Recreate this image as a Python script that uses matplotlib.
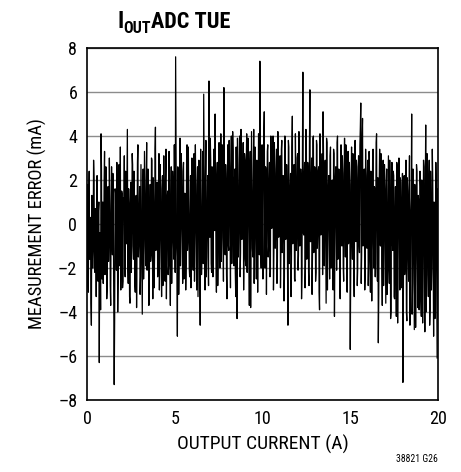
import numpy as np
import matplotlib
matplotlib.use("Agg")
import matplotlib.pyplot as plt
from matplotlib import font_manager

# measurement error (mA) at 0, 0.05, 0.10 ... 20 A
error_even = [
    -0.5, -2.8, 0.9, -1.6, 0.3, -4.6, 1.2, -0.9, 2.1, -2.2, -0.1, 1.5, -1.3, 0.6, -6.3, -0.8, 4.1, -2.5, 1.0, -1.7,
    3.3, -1.1, 0.4, -2.9, 1.7, -0.6, 0.9, -3.7, 2.6, -1.4, 0.2, -7.3, 1.6, -0.7, 2.8, -4.0, 0.5, -1.9, 3.5, -0.2,
    1.4, -2.6, 0.3, -1.8, 2.4, -0.9, 4.3, -2.7, 0.8, -3.6, 1.9, -0.4, 2.7, -1.6, 0.1, -3.1, 1.3, -1.1, 3.6, -0.8,
    1.7, -2.4, 0.6, -4.1, 2.5, -1.0, 1.1, -1.9, 3.7, -0.3, 0.8, -3.0, 1.8, -1.4, 2.9, -3.4, 0.4, -1.5, 4.4, -0.9,
    1.9, -1.7, 3.2, -0.6, 0.9, -3.3, 2.2, -1.2, 0.5, -2.6, 3.4, -0.7, 1.5, -1.9, 0.2, -3.7, 2.6, -0.5, 1.8, -1.6,
    1.1, 7.6, -0.9, -5.1, 2.3, -1.4, 3.9, -0.2, 1.6, -2.7, 2.8, 0.1, 1.2, -1.8, 3.6, -0.6, 0.7, -2.4, 2.2, -1.1,
    2.0, -2.1, 3.2, -0.3, 1.3, -3.0, 2.6, 0.2, 1.7, -4.6, 0.8, -1.3, 3.3, 5.9, -0.9, 2.1, -2.4, 0.6, -1.5, 6.5,
    -0.6, 2.9, -2.2, 1.7, 0.1, 3.2, 5.0, -1.4, 2.0, -2.8, 2.5, 0.3, 1.6, -1.7, 3.6, -0.4, 6.2, -1.1, 2.7, -2.3,
    2.3, -0.9, 3.8, 0.2, 2.6, -1.8, 4.2, -0.5, 1.9, -2.2, 3.5, -4.3, 1.5, -0.2, 4.0, -1.3, 2.4, 0.4, 3.7, -1.0,
    2.9, -1.9, 4.1, 0.0, 2.2, -3.7, 3.3, 0.6, 1.5, -1.5, 4.3, -0.4, 2.6, -2.5, 1.8, 0.1, 3.5, 7.4, -1.2, 2.0,
    -0.5, 3.0, 5.1, -2.0, 2.4, 0.3, 3.6, -1.0, 2.8, -2.2, 1.7, 0.0, 4.0, -1.3, 2.5, -0.3, 3.4, -1.7, 1.4, 0.5,
    3.1, -1.1, 3.8, -0.2, 2.1, -2.4, 2.9, 0.2, 1.6, -4.6, 3.5, -0.6, 2.3, -1.6, 4.9, 0.0, 2.7, -2.6, 1.9, -0.4,
    3.2, -1.4, 3.9, 0.1, 2.0, -2.3, 6.9, -0.5, 2.8, -1.8, 3.6, 0.4, 2.3, -2.8, 6.1, -0.8, 3.0, -1.3, 4.0, -0.1,
    2.1, -2.2, 3.6, -0.3, 2.6, -3.9, 1.8, 0.3, 3.2, 5.1, -1.6, 2.4, -0.7, 3.9, -3.0, 1.6, 0.0, 3.1, -2.0, 1.9,
    -0.6, 3.4, -4.2, 2.0, 0.1, 3.7, -1.6, 2.5, -2.5, 1.6, -0.2, 3.1, -1.9, 2.2, 0.2, 3.6, -2.7, 1.5, -0.9, 2.8,
    -5.7, 1.8, -0.5, 3.2, -2.1, 1.4, 0.2, 2.9, -2.8, 2.1, -0.8, 3.6, 5.5, -1.4, 4.8, -0.2, 2.5, -2.4, 1.7, -1.1,
    2.9, -1.7, 2.2, -3.1, 1.2, -0.4, 3.4, -2.0, 1.6, 0.0, 4.1, -2.6, -5.4, 1.9, -0.9, 3.2, -1.8, 0.8, -2.8, 2.7,
    -1.2, 1.6, -3.2, 0.9, -1.9, 2.9, -4.3, 1.2, -0.8, 2.4, -3.3, 0.5, -1.6, 2.8, -4.5, 1.4, -0.4, 2.1, -2.9, 0.8,
    -7.2, 1.6, -2.3, 0.4, -4.0, 2.1, -1.2, 1.3, -4.6, 0.5, 5.0, -2.7, 1.4, -4.8, 0.2, -1.8, 2.4, -3.8, 1.0, -2.2,
    1.7, -4.2, 0.3, -1.6, 2.6, -4.9, 4.5, -1.0, 1.2, -3.3, 2.9, -3.9, 0.6, -2.0, 2.1, -5.1, 0.9, -2.6, 1.5, -6.1,
    0.2,
]
# measurement error (mA) at 0.025, 0.075 ... 19.975 A
error_odd = [
    1.8, -3.1, 2.4, -0.9, -3.6, 1.3, -2.0, 2.9, -1.2, 0.7, -3.3, 2.2, -2.6, 1.0, -0.4, -3.9, 2.5, -1.1, -2.7, 1.9,
    -2.3, 2.6, -3.4, 1.1, -1.7, 3.0, -2.8, 0.6, -0.5, 2.3, -3.2, -4.4, 1.4, -2.1, 0.9, -2.6, 2.7, -0.8, -3.0, 1.5,
    -2.9, 1.2, 3.1, -2.4, -0.3, 2.0, -1.8, 1.6, -3.3, 0.7, -2.2, 3.2, -1.0, 2.4, -2.7, 1.1, -3.8, 2.8, -1.5, 0.4,
    -3.2, 2.7, -1.3, 0.9, -2.5, 3.3, -0.6, 1.9, -2.1, 2.5, -3.7, 0.3, -1.7, 3.0, -0.9, 2.1, -2.9, 3.4, -1.2, 1.5,
    -2.4, 0.8, -3.0, 2.7, -1.1, 1.6, -2.8, 3.1, -0.4, 2.0, -3.4, 1.2, -2.3, 3.3, -1.6, 0.9, -2.7, 2.4, -0.8, 3.6,
    -2.2, 3.4, -1.5, 2.6, -3.2, 0.9, -1.9, 3.2, -0.7, 2.4, -2.5, 1.4, -3.0, 2.9, -1.2, 3.5, -2.0, 0.5, -2.9, 3.0,
    -1.4, 2.7, -2.6, 3.6, -0.9, 1.8, -3.3, 2.9, -1.1, 3.4, -2.3, 0.7, -1.8, 2.5, -3.0, 3.8, -0.5, 2.2, -2.8, 1.6,
    3.9, -1.8, 2.6, -2.4, 3.4, -0.3, 1.9, -3.1, 2.8, -1.0, 3.7, -2.0, 4.1, -0.6, 2.3, -2.6, 3.1, -1.4, 1.7, -3.4,
    3.6, -1.2, 2.1, -2.9, 4.0, -0.2, 3.3, -1.9, 2.5, -3.3, 0.8, 3.9, -1.5, 2.7, -2.4, 4.3, -0.7, 2.0, -3.0, 3.2,
    -1.6, 2.8, -2.2, 3.9, -0.4, 2.4, -3.8, 4.2, -1.1, 1.9, -2.7, 3.5, -0.6, 2.9, -3.1, 4.1, -1.4, 2.2, -2.0, 3.6,
    -2.5, 4.1, -0.8, 2.6, -3.2, 3.3, -1.5, 1.8, -2.4, 4.0, -0.2, 2.9, -3.0, 3.7, -1.1, 2.3, -2.7, 4.2, -0.6, 2.5,
    -2.9, 3.4, -1.3, 2.2, -3.5, 4.0, -0.7, 2.7, -2.0, 3.8, -1.8, 1.6, -3.3, 3.5, -0.9, 2.1, -2.5, 4.1, -1.2, 3.0,
    -2.1, 4.2, -1.0, 2.5, -3.4, 3.1, -0.4, 2.0, -2.9, 4.3, -1.6, 2.8, -2.2, 3.6, -0.8, 1.9, -3.2, 3.9, -1.3, 2.6,
    -2.6, 3.8, -1.1, 2.4, -3.1, 4.1, -0.5, 1.7, -2.3, 3.3, -1.9, 2.9, -3.6, 3.7, -0.9, 2.2, -2.5, 3.5, -1.4, 2.0,
    -3.0, 3.2, -1.2, 2.6, -2.1, 4.0, -0.7, 1.5, -3.4, 3.6, -1.0, 2.3, -2.6, 3.9, -1.5, 2.1, -3.1, 3.3, -0.6, 1.8,
    -2.4, 3.5, -1.6, 2.0, -3.3, 3.8, -0.8, 2.6, -2.0, 3.1, -1.3, 4.4, -2.7, 3.9, -1.0, 2.3, -3.0, 3.4, -0.5, 2.2,
    -2.8, 3.3, -1.5, 2.4, -3.5, 3.0, -0.9, 1.7, -2.4, 3.7, -1.8, 2.1, -3.2, 3.4, -1.0, 2.6, -3.7, 2.9, -0.7, 1.9,
    -3.6, 2.5, -1.8, 3.1, -2.7, 1.4, -4.0, 2.8, -1.2, 2.2, -3.4, 1.7, -4.2, 2.6, -1.5, 3.0, -3.0, 1.9, -2.4, 2.3,
    -3.8, 2.2, -1.7, 2.9, -4.4, 1.5, -2.6, 3.1, -3.4, 1.2, -4.1, 2.5, -2.0, 1.8, -4.7, 2.7, -1.6, 1.3, -3.9, 2.4,
    -3.5, 2.0, -4.5, 2.9, -1.9, 1.4, -4.0, 3.2, -2.3, 1.7, -4.6, 2.4, -3.0, 3.4, -1.5, 1.0, -4.3, 2.8, -2.1, 1.6,
]
x_range = (0, 20)
y_range = (-8, 8)
x_ticks = [0, 5, 10, 15, 20]
y_ticks = [-8, -6, -4, -2, 0, 2, 4, 6, 8]

# interleave the two halves into one sweep
error_ma = np.empty(len(error_even) + len(error_odd))
error_ma[0::2] = error_even
error_ma[1::2] = error_odd
current = np.linspace(x_range[0], x_range[1], len(error_ma))


def pick_font():
    # prefer a narrow face, the original uses a condensed grotesque
    for fam, stretch in [('Liberation Sans Narrow', 'normal'), ('Roboto Condensed', 'normal'),
                         ('DejaVu Sans', 'condensed')]:
        try:
            path = font_manager.findfont(font_manager.FontProperties(family=fam, stretch=stretch),
                                         fallback_to_default=False)
        except Exception:
            continue
        name = path.lower()
        if 'narrow' in name or 'condensed' in name:
            return fam, stretch
    return 'Roboto', 'normal'


family, stretch = pick_font()
plt.rcParams['font.family'] = [family, 'DejaVu Sans']
plt.rcParams['font.stretch'] = stretch

fig = plt.figure(figsize=(4.61, 4.72), dpi=100)
ax = fig.add_axes([87 / 461, 1 - 400 / 472, 351 / 461, 352 / 472])

ax.plot(current, error_ma, color='black', linewidth=0.9, zorder=3)

ax.set_xlim(*x_range)
ax.set_ylim(*y_range)
ax.set_xticks(x_ticks)
ax.set_yticks(y_ticks)
ax.set_yticklabels([str(t).replace('-', '\u2013') for t in y_ticks])
ax.tick_params(length=0, labelsize=13, pad=7)
ax.grid(axis='y', color='#8c8c8c', linewidth=1.0, zorder=1)
for s in ax.spines.values():
    s.set_linewidth(1.2)

ax.set_xlabel('OUTPUT CURRENT (A)', fontsize=14, labelpad=5)
ax.set_ylabel('MEASUREMENT ERROR (mA)', fontsize=13.3, labelpad=8)

# title with subscript
fig.text(117 / 461, 1 - 28 / 472, 'I', fontsize=16.5, fontweight='bold', ha='left', va='baseline')
fig.text(123 / 461, 1 - 33 / 472, 'OUT', fontsize=11.5, fontweight='bold', ha='left', va='baseline')
fig.text(151 / 461, 1 - 28 / 472, 'ADC TUE', fontsize=16, fontweight='bold', ha='left', va='baseline')

fig.text(438 / 461, 1 - 462 / 472, '38821 G26', fontsize=7, ha='right', va='baseline')

fig.savefig('out.png', dpi=100)
